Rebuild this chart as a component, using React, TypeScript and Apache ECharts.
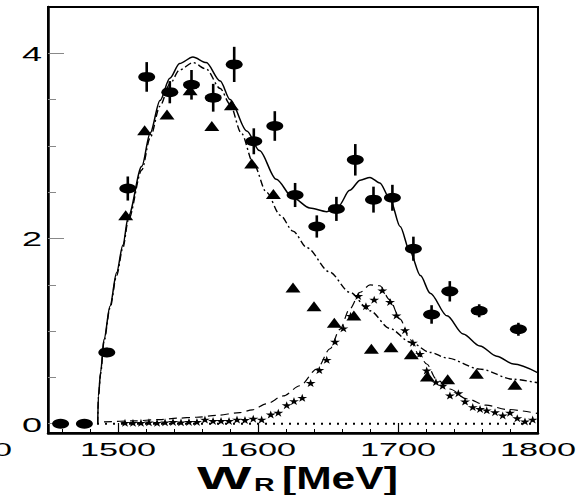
import React, { useEffect, useRef } from "react";
import * as echarts from "echarts";

// ---- axis ticks / labels ----
const xTickLabels = [1500, 1600, 1700, 1800];
const xMajorTicks = [1500, 1600, 1700];
const xMinorTicks = [1460, 1480, 1520, 1540, 1560, 1580, 1620, 1640, 1660, 1680, 1720, 1740, 1760, 1780];
const yTickLabels = [0, 2, 4];
const yMajorTicks = [0, 2, 4];
const yMinorTicks = [0.5, 1, 1.5, 2.5, 3, 3.5];

// ---- data points: filled ellipses with error bars ----
const circleW = [1459, 1476, 1492, 1507, 1520.5, 1537, 1552.5, 1568, 1583, 1597, 1612, 1626.5, 1642, 1656, 1669.5, 1682.5, 1696, 1711, 1724, 1737, 1758, 1786];
const circleV = [0, 0, 0.77, 2.54, 3.745, 3.58, 3.66, 3.52, 3.88, 3.05, 3.215, 2.47, 2.13, 2.32, 2.85, 2.42, 2.44, 1.89, 1.18, 1.43, 1.22, 1.02];
const circleErr = [0, 0, 0.05, 0.13, 0.16, 0.12, 0.16, 0.15, 0.19, 0.14, 0.16, 0.13, 0.12, 0.13, 0.17, 0.14, 0.14, 0.13, 0.1, 0.11, 0.07, 0.07];

// ---- triangles ----
const triW = [1505.5, 1519, 1535, 1551.5, 1567, 1581, 1595.5, 1611, 1625, 1640, 1654.5, 1668.5, 1681, 1695, 1709.5, 1721, 1735.5, 1756, 1783.5];
const triV = [2.25, 3.17, 3.34, 3.6, 3.215, 3.44, 2.81, 2.48, 1.47, 1.27, 1.09, 1.17, 0.81, 0.825, 0.75, 0.51, 0.48, 0.54, 0.42];

// ---- stars ----
const starW = [1505, 1510.7, 1516.4, 1522.1, 1527.9, 1533.6, 1539.3, 1545, 1550.7, 1556.4, 1562.1, 1567.9, 1573.6, 1579.3, 1585, 1590.7, 1596.6, 1602.6, 1609.1, 1614.5, 1620.5, 1625.7, 1631.6, 1637.6, 1643.8, 1649.1, 1655, 1661, 1666.1, 1671.6, 1677.1, 1683, 1688.8, 1694.3, 1698.9, 1705, 1710.6, 1715.7, 1720.5, 1727.1, 1731.9, 1737.1, 1743.1, 1747.9, 1753.4, 1758.6, 1763.4, 1769.3, 1774.8, 1780, 1785.2, 1790.7, 1796.2];
const starV = [0.01, 0.01, 0.01, 0.015, 0.01, 0.015, 0.02, 0.015, 0.02, 0.02, 0.045, 0.03, 0.03, 0.03, 0.045, 0.04, 0.055, 0.045, 0.1, 0.12, 0.2, 0.245, 0.28, 0.44, 0.58, 0.69, 0.885, 1.03, 1.165, 1.38, 1.27, 1.34, 1.44, 1.315, 1.17, 1.01, 0.875, 0.755, 0.575, 0.45, 0.41, 0.305, 0.33, 0.24, 0.18, 0.16, 0.145, 0.125, 0.09, 0.12, 0.06, 0.025, 0.045];

// ---- curves ----
const solidW = [1485.5, 1486, 1487.6, 1490, 1494.3, 1499, 1503.5, 1507.4, 1517, 1523, 1530, 1537, 1544, 1553.5, 1563, 1573, 1580, 1592, 1601, 1613, 1625, 1637, 1649, 1657.5, 1665.5, 1673, 1680, 1687, 1694.5, 1701.5, 1708.5, 1716, 1723, 1735, 1746.5, 1758.5, 1770.5, 1782.5, 1800];
const solidV = [0, 0.3, 0.56, 0.91, 1.27, 1.63, 1.93, 2.24, 2.78, 3.14, 3.49, 3.73, 3.89, 3.96, 3.9, 3.7, 3.5, 3.16, 2.95, 2.64, 2.44, 2.33, 2.29, 2.35, 2.52, 2.63, 2.66, 2.6, 2.42, 2.13, 1.86, 1.6, 1.41, 1.165, 0.97, 0.84, 0.73, 0.645, 0.55];

const dashDotW = [1485.5, 1486, 1487.6, 1490, 1494.3, 1499, 1503.5, 1507.4, 1517, 1523, 1530, 1537, 1544, 1553.5, 1563, 1573, 1580, 1588, 1597, 1606, 1616, 1625, 1635, 1651, 1665.5, 1680, 1694, 1709, 1723, 1735, 1758.5, 1782.5, 1800];
const dashDotV = [0, 0.29, 0.54, 0.89, 1.25, 1.6, 1.9, 2.2, 2.74, 3.09, 3.43, 3.67, 3.82, 3.9, 3.83, 3.62, 3.45, 3.14, 2.8, 2.5, 2.25, 2.08, 1.9, 1.64, 1.42, 1.22, 1.03, 0.88, 0.77, 0.71, 0.59, 0.48, 0.44];

const dashedW = [1490, 1510, 1530, 1542, 1556, 1570, 1587, 1596, 1606, 1618, 1630, 1642, 1651.5, 1658.5, 1665.5, 1673, 1680, 1687, 1694, 1701.5, 1708.5, 1715.5, 1720.5, 1727.5, 1737, 1749, 1763, 1777.5, 1800];
const dashedV = [0.02, 0.03, 0.045, 0.06, 0.07, 0.09, 0.12, 0.15, 0.215, 0.3, 0.41, 0.59, 0.81, 1.02, 1.24, 1.42, 1.5, 1.49, 1.34, 1.13, 0.91, 0.73, 0.645, 0.48, 0.375, 0.27, 0.2, 0.155, 0.11];

const dottedW = [1485, 1800];
const dottedV = [0, 0];

const STAR = "path://M50,0 L61,35 L98,35 L68,57 L79,91 L50,70 L21,91 L32,57 L2,35 L39,35 Z";
const FONT = "'Liberation Sans', Arial, Helvetica, sans-serif";

const zip = (a: number[], b: number[]) => a.map((v, i) => [v, b[i]]);

export default function App() {
  const ref = useRef<HTMLDivElement>(null);
  useEffect(() => {
    document.body.style.margin = "0";
    const chart = echarts.init(ref.current!, null, { renderer: "svg" });
    const option: any = {
      animation: false,
      backgroundColor: "#fff",
      grid: { left: 48, right: 41, top: 7, bottom: 62, show: true, borderColor: "#000", borderWidth: 2 },
      xAxis: [
        {
          type: "value", min: 1450, max: 1800, position: "bottom",
          axisLine: { show: true, onZero: false, lineStyle: { color: "#000", width: 2.5 } },
          axisTick: { show: true, inside: true, length: 10, customValues: xMajorTicks, lineStyle: { color: "#000", width: 1.2 } },
          axisLabel: { show: false, customValues: xTickLabels },
          splitLine: { show: false },
        },
        {
          type: "value", min: 1450, max: 1800, position: "bottom",
          axisLine: { show: false, onZero: false },
          axisTick: { show: true, inside: true, length: 4, customValues: xMinorTicks, lineStyle: { color: "#000", width: 1 } },
          axisLabel: { show: false },
          splitLine: { show: false },
        },
      ],
      yAxis: [
        {
          type: "value", min: -0.1, max: 4.5, position: "left",
          axisLine: { show: true, onZero: false, lineStyle: { color: "#000", width: 2.5 } },
          axisTick: { show: true, inside: true, length: 16, customValues: yMajorTicks, lineStyle: { color: "#888", width: 1 } },
          axisLabel: { show: false, customValues: yTickLabels },
          splitLine: { show: false },
        },
        {
          type: "value", min: -0.1, max: 4.5, position: "left",
          axisLine: { show: false, onZero: false },
          axisTick: { show: true, inside: true, length: 8, customValues: yMinorTicks, lineStyle: { color: "#888", width: 1 } },
          axisLabel: { show: false },
          splitLine: { show: false },
        },
      ],
      series: [
        {
          type: "line", data: zip(dottedW, dottedV), symbol: "none",
          lineStyle: { color: "#000", width: 2, type: [2, 6] },
        },
        {
          type: "line", data: zip(dashedW, dashedV), symbol: "none", smooth: 0.3, smoothMonotone: "x",
          lineStyle: { color: "#000", width: 1.2, type: [8, 5] },
        },
        {
          type: "line", data: zip(dashDotW, dashDotV), symbol: "none", smooth: 0.3, smoothMonotone: "x",
          lineStyle: { color: "#000", width: 1.4, type: [7, 3, 2, 3] },
        },
        {
          type: "line", data: zip(solidW, solidV), symbol: "none", smooth: 0.3, smoothMonotone: "x",
          lineStyle: { color: "#000", width: 1.5 },
        },
        {
          type: "scatter", data: zip(starW, starV), symbol: STAR, symbolSize: [10, 8],
          itemStyle: { color: "#000", opacity: 1 },
        },
        {
          type: "scatter", data: zip(triW, triV), symbol: "triangle", symbolSize: [15, 10],
          itemStyle: { color: "#000", opacity: 1 },
        },
        {
          type: "custom",
          data: circleW.map((w, i) => [w, circleV[i] - circleErr[i], circleV[i] + circleErr[i]]),
          encode: { x: 0, y: [1, 2] },
          renderItem: (params: any, api: any) => {
            const p1 = api.coord([api.value(0), api.value(1)]);
            const p2 = api.coord([api.value(0), api.value(2)]);
            return {
              type: "line",
              shape: { x1: p1[0], y1: p1[1], x2: p2[0], y2: p2[1] },
              style: { stroke: "#000", lineWidth: 2.6 },
            };
          },
        },
        {
          type: "scatter", data: zip(circleW, circleV), symbol: "circle", symbolSize: [17, 10],
          itemStyle: { color: "#000", opacity: 1 },
        },
      ],
    };
    chart.setOption(option);

    const px = (x: number, y: number) => chart.convertToPixel({ seriesIndex: 0 }, [x, y]) as number[];
    const SX = 1.8;
    const graphics: any[] = [];
    xTickLabels.forEach((v) => {
      const p = px(v, -0.1);
      graphics.push({
        type: "text", x: p[0], y: p[1] + 16, scaleX: SX,
        style: { text: String(v), font: `19px ${FONT}`, fill: "#000", textAlign: "center", textVerticalAlign: "middle", align: "center", verticalAlign: "middle" },
      });
    });
    // clipped leftmost label remnant, as in the reference
    const pl = px(1450, -0.1);
    graphics.push({
      type: "text", x: 12, y: pl[1] + 16, scaleX: SX,
      style: { text: "0", font: `19px ${FONT}`, fill: "#000", textAlign: "right", textVerticalAlign: "middle", align: "right", verticalAlign: "middle" },
    });
    yTickLabels.forEach((v) => {
      const p = px(1450, v);
      graphics.push({
        type: "text", x: p[0] - 6, y: p[1] + 1, scaleX: SX,
        style: { text: String(v), font: `20px ${FONT}`, fill: "#000", textAlign: "right", textVerticalAlign: "middle", align: "right", verticalAlign: "middle" },
      });
    });
    // axis title W_R[MeV]
    graphics.push(
      {
        type: "text", x: 197, y: 478, scaleX: 1.8,
        style: { text: "W", font: `bold 32px ${FONT}`, fill: "#000", textAlign: "left", textVerticalAlign: "middle", align: "left", verticalAlign: "middle" },
      },
      {
        type: "text", x: 254, y: 484, scaleX: 1.5,
        style: { text: "R", font: `bold 19px ${FONT}`, fill: "#000", textAlign: "left", textVerticalAlign: "middle", align: "left", verticalAlign: "middle" },
      },
      {
        type: "text", x: 282, y: 478, scaleX: 1.33,
        style: { text: "[MeV]", font: `bold 32px ${FONT}`, fill: "#000", textAlign: "left", textVerticalAlign: "middle", align: "left", verticalAlign: "middle" },
      }
    );
    chart.setOption({ graphic: graphics });

    return () => chart.dispose();
  }, []);
  return <div ref={ref} style={{ width: 579, height: 495 }} />;
}
